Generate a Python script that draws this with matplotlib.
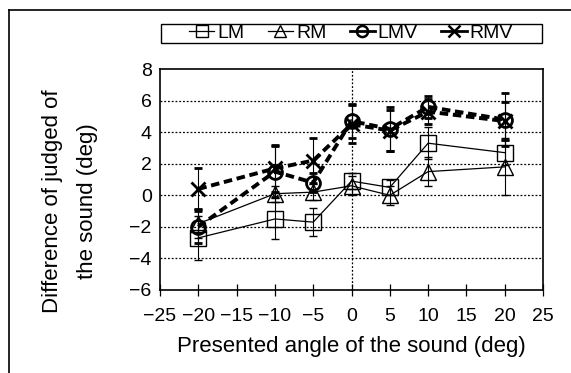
import matplotlib
matplotlib.use("Agg")
import matplotlib.pyplot as plt
from matplotlib.lines import Line2D
from matplotlib.patches import Rectangle

plt.rcParams['font.family'] = ['Liberation Sans', 'DejaVu Sans']

angles = [-20, -10, -5, 0, 5, 10, 20]
lm = [-2.7, -1.5, -1.7, 0.9, 0.5, 3.3, 2.7]
lm_err = [1.4, 1.3, 0.9, 0.5, 0.5, 1.0, 0.8]
rm = [-1.8, 0.1, 0.2, 0.6, 0.0, 1.5, 1.8]
rm_err = [0.9, 0.5, 0.5, 0.6, 0.6, 0.9, 1.8]
lmv = [-2.0, 1.5, 0.8, 4.7, 4.2, 5.6, 4.8]
lmv_err = [1.0, 1.6, 0.6, 1.1, 1.4, 0.7, 1.7]
rmv = [0.4, 1.7, 2.2, 4.5, 4.1, 5.3, 4.7]
rmv_err = [1.3, 1.5, 1.4, 1.2, 1.3, 0.8, 1.2]

x_ticks = [-25, -20, -15, -10, -5, 0, 5, 10, 15, 20, 25]
y_ticks = [-6, -4, -2, 0, 2, 4, 6, 8]

W, H = 571, 373
fig = plt.figure(figsize=(W / 100, H / 100), dpi=100)
ax = fig.add_axes([160 / W, 1 - 290 / H, (543 - 160) / W, (290 - 69) / H])

# gridlines
for yv in y_ticks[1:-1]:
    ax.axhline(yv, color='black', lw=0.9, ls=(0, (1.5, 1.5)), zorder=1)
ax.axvline(0, color='black', lw=0.9, ls=(0, (1.5, 1.5)), zorder=1)

ms = 11
ax.errorbar(angles, lm, yerr=lm_err, color='black', lw=0.9, marker='s', ms=ms,
            mfc='none', mec='black', mew=1.0, capsize=3, elinewidth=0.8, zorder=3)
ax.errorbar(angles, rm, yerr=rm_err, color='black', lw=0.9, marker='^', ms=ms,
            mfc='none', mec='black', mew=1.0, capsize=3, elinewidth=0.8, zorder=3)
ax.errorbar(angles, lmv, yerr=lmv_err, color='black', lw=2.8, ls=(0, (2.2, 1.2)),
            marker='o', ms=ms - 1, mfc='none', mec='black', mew=2.0, capsize=3,
            elinewidth=0.8, zorder=4)
ax.errorbar(angles, rmv, yerr=rmv_err, color='black', lw=2.8, ls=(0, (2.2, 1.2)),
            marker='x', ms=ms - 1, mec='black', mew=2.0, capsize=3,
            elinewidth=0.8, zorder=4)

ax.set_xlim(-25, 25)
ax.set_ylim(-6, 8)
ax.set_xticks(x_ticks)
ax.set_yticks(y_ticks)
ax.set_xticklabels([str(v).replace('-', '\u2212') for v in x_ticks])
ax.set_yticklabels([str(v).replace('-', '\u2212') for v in y_ticks])
ax.tick_params(axis='x', direction='inout', length=8, width=0.9, labelsize=14, pad=9)
ax.tick_params(axis='y', length=0, labelsize=14, pad=6)
for s in ax.spines.values():
    s.set_linewidth(1.2)
    s.set_color('black')

ax.set_xlabel('Presented angle of the sound (deg)', fontsize=16, labelpad=8)
fig.text(53 / W, 1 - 201 / H, 'Difference of judged of', rotation=90,
         ha='center', va='center', fontsize=16)
fig.text(88 / W, 1 - 201 / H, 'the sound (deg)', rotation=90,
         ha='center', va='center', fontsize=16)

handles = [
    Line2D([], [], color='black', lw=0.9, marker='s', ms=9, mfc='none', mec='black'),
    Line2D([], [], color='black', lw=0.9, marker='^', ms=9, mfc='none', mec='black'),
    Line2D([], [], color='black', lw=2.0, marker='o', ms=8, mfc='none', mec='black', mew=1.8),
    Line2D([], [], color='black', lw=2.0, marker='x', ms=8, mec='black', mew=1.8),
]
leg = fig.legend(handles, ['LM', 'RM', 'LMV', 'RMV'], ncol=4,
                 loc='center', bbox_to_anchor=(351 / W, 1 - 33 / H),
                 fontsize=14, frameon=False, handlelength=1.3,
                 handletextpad=0.15, columnspacing=1.2, borderpad=0,
                 borderaxespad=0)
fig.add_artist(Rectangle((161 / W, 1 - 43 / H), (542 - 161) / W, 19 / H,
                         transform=fig.transFigure, fill=False,
                         edgecolor='black', lw=1.0))

# outer frame (top and left edges)
fig.add_artist(Line2D([9 / W, 1], [1 - 10 / H, 1 - 10 / H], color='black', lw=1.2,
                      transform=fig.transFigure))
fig.add_artist(Line2D([9 / W, 9 / W], [1 - 10 / H, 0], color='black', lw=1.2,
                      transform=fig.transFigure))

fig.savefig('out.png', dpi=100)
